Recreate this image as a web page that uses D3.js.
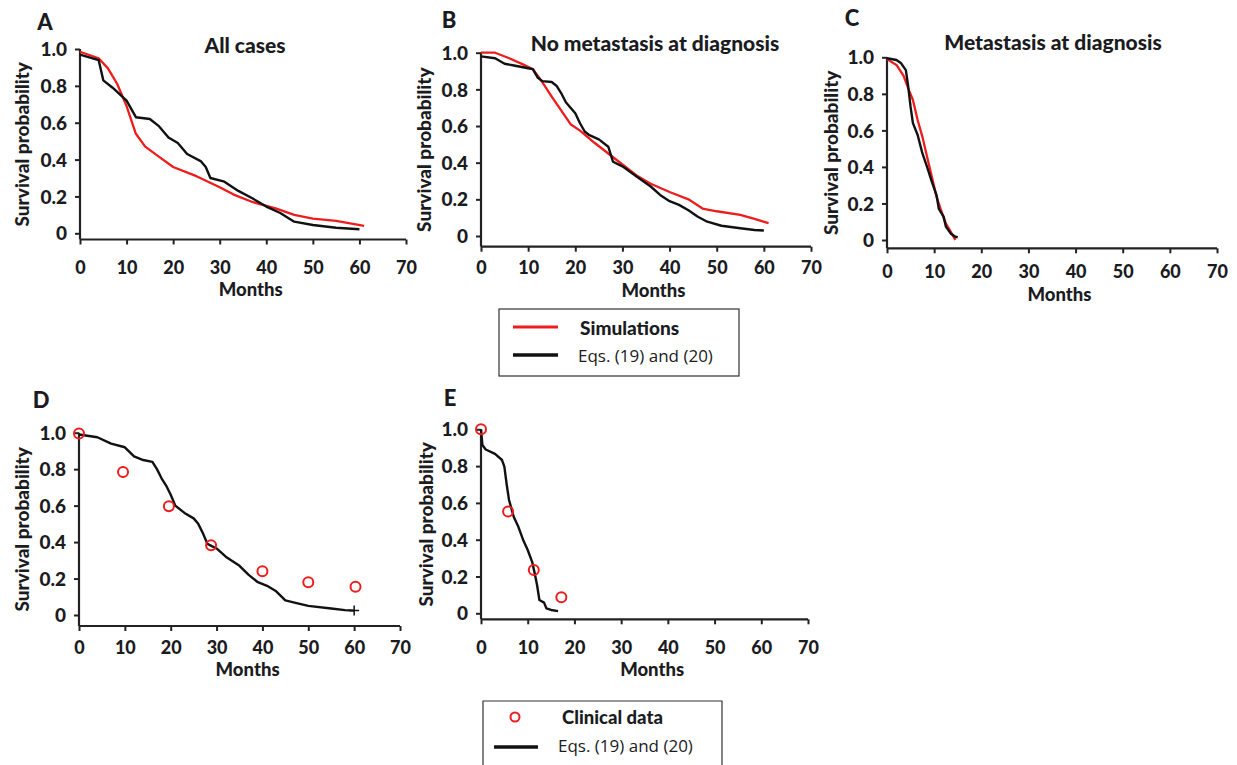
<!DOCTYPE html>
<html>
  <head>
    <meta charset="UTF-8">
    <title>survival curves</title>
    <script src="https://d3js.org/d3.v7.min.js"></script>
    <style>
      body { margin: 0; background: #fff; }
      text { font-family: Lato, "Open Sans", sans-serif; fill: #1b1b22; }
    </style>
  </head>
  <body>
    <div id="chart"></div>

    <script>
      // ---- data ----
      var monthTicks = [0, 10, 20, 30, 40, 50, 60, 70];
      var survTicks = [0, 0.2, 0.4, 0.6, 0.8, 1.0];

      // A: all cases
      var aSimMonths = [0, 4, 6, 8, 10, 12, 14, 17, 20, 25, 30, 33, 37, 42, 46, 50, 55, 61];
      var aSimSurv   = [0.985, 0.95, 0.895, 0.81, 0.69, 0.54, 0.47, 0.415, 0.36, 0.31, 0.25, 0.21, 0.17, 0.135, 0.10, 0.08, 0.067, 0.04];
      var aEqMonths  = [0, 4, 5, 7, 10, 12, 15, 17, 19, 21, 23, 26, 27, 28, 31, 34, 37, 40, 43, 46, 50, 55, 60];
      var aEqSurv    = [0.97, 0.94, 0.83, 0.79, 0.72, 0.63, 0.62, 0.58, 0.52, 0.49, 0.43, 0.39, 0.36, 0.30, 0.28, 0.23, 0.19, 0.145, 0.11, 0.063, 0.045, 0.03, 0.022];

      // B: no metastasis at diagnosis
      var bSimMonths = [0, 3, 6, 9, 11, 13, 15, 17, 19, 21, 24, 27, 30, 33, 36, 40, 44, 47, 50, 55, 58, 61];
      var bSimSurv   = [1.0, 1.0, 0.97, 0.935, 0.91, 0.84, 0.76, 0.685, 0.61, 0.575, 0.51, 0.45, 0.39, 0.33, 0.285, 0.24, 0.2, 0.15, 0.135, 0.115, 0.093, 0.07];
      var bEqMonths  = [0, 3, 5, 7, 10, 11, 12, 13, 15, 16, 17, 18, 19, 20, 21, 22, 23, 25, 27, 28, 30, 33, 36, 38, 40, 42, 44, 46, 48, 51, 55, 58, 60];
      var bEqSurv    = [0.98, 0.97, 0.94, 0.93, 0.915, 0.91, 0.865, 0.845, 0.84, 0.82, 0.78, 0.73, 0.70, 0.67, 0.615, 0.57, 0.55, 0.527, 0.487, 0.405, 0.38, 0.325, 0.27, 0.224, 0.19, 0.17, 0.14, 0.105, 0.078, 0.056, 0.042, 0.033, 0.03];

      // C: metastasis at diagnosis
      var cSimMonths = [0, 2, 3.5, 4.5, 5.5, 6.5, 7.5, 8.5, 9.5, 10.5, 11.5, 12.5, 13.5, 14.5];
      var cSimSurv   = [0.99, 0.958, 0.90, 0.83, 0.766, 0.657, 0.566, 0.456, 0.347, 0.237, 0.16, 0.09, 0.046, 0.0];
      var cEqMonths  = [0, 2, 3, 4, 4.5, 5, 5.5, 6.5, 7.5, 8.5, 9.5, 10.5, 11, 12, 12.5, 13.5, 14.5, 15];
      var cEqSurv    = [0.995, 0.985, 0.967, 0.93, 0.84, 0.73, 0.64, 0.575, 0.475, 0.40, 0.32, 0.246, 0.17, 0.128, 0.073, 0.036, 0.018, 0.015];

      // D: no metastasis, clinical data
      var dEqMonths  = [0, 4, 7, 10, 12, 14, 16, 17, 18, 19, 20, 21, 23, 25, 26, 27, 28, 30, 32, 35, 37, 39, 41, 43, 45, 47, 50, 55, 58, 60];
      var dEqSurv    = [0.99, 0.975, 0.94, 0.92, 0.87, 0.85, 0.84, 0.80, 0.75, 0.71, 0.66, 0.60, 0.56, 0.53, 0.50, 0.45, 0.39, 0.365, 0.32, 0.27, 0.22, 0.18, 0.16, 0.13, 0.08, 0.068, 0.05, 0.036, 0.027, 0.024];
      var dClinMonths = [0, 9.6, 19.6, 28.8, 40, 50, 60.3];
      var dClinSurv   = [0.995, 0.785, 0.597, 0.383, 0.24, 0.18, 0.155];

      // E: metastasis, clinical data
      var eEqMonths  = [0, 0.3, 1, 3, 4.5, 5, 5.5, 6, 7, 8, 9, 10, 11, 11.5, 12, 12.5, 13.5, 14, 15, 16.5];
      var eEqSurv    = [1.0, 0.915, 0.89, 0.866, 0.833, 0.797, 0.70, 0.616, 0.525, 0.47, 0.40, 0.344, 0.275, 0.217, 0.154, 0.072, 0.058, 0.027, 0.018, 0.012];
      var eClinMonths = [0, 5.8, 11.3, 17.2];
      var eClinSurv   = [1.0, 0.553, 0.235, 0.087];

      function zip(ms, ss) { return ms.map(function (m, i) { return { m: m, s: ss[i] }; }); }

      // ---- layout ----
      var W = 1237, H = 765;
      var svg = d3.select("#chart").append("svg").attr("width", W).attr("height", H);

      var panels = [
        { letter: "A", title: "All cases", sim: zip(aSimMonths, aSimSurv), eq: zip(aEqMonths, aEqSurv),
          x0: 80, x70: 406, yTop: 49, yZero: 233.3, axisY: 239.5, tickY: 267, labY: 289,
          titleX: 245, titleY: 44, letX: 45, letY: 21, ylabX: 21 },
        { letter: "B", title: "No metastasis at diagnosis", sim: zip(bSimMonths, bSimSurv), eq: zip(bEqMonths, bEqSurv),
          x0: 481, x70: 811, yTop: 52.7, yZero: 236, axisY: 246.7, tickY: 267, labY: 290,
          titleX: 655, titleY: 42, letX: 449, letY: 19, ylabX: 423 },
        { letter: "C", title: "Metastasis at diagnosis", sim: zip(cSimMonths, cSimSurv), eq: zip(cEqMonths, cEqSurv),
          x0: 887, x70: 1217, yTop: 57.3, yZero: 240, axisY: 248.3, tickY: 271, labY: 294,
          titleX: 1053, titleY: 41, letX: 852, letY: 17, ylabX: 830 },
        { letter: "D", clin: zip(dClinMonths, dClinSurv), eq: zip(dEqMonths, dEqSurv), endMark: true,
          x0: 79, x70: 400, yTop: 432.7, yZero: 615, axisY: 626, tickY: 647, labY: 669,
          letX: 41, letY: 399, ylabX: 21 },
        { letter: "E", clin: zip(eClinMonths, eClinSurv), eq: zip(eEqMonths, eEqSurv),
          x0: 481, x70: 808, yTop: 429.3, yZero: 613.3, axisY: 619.3, tickY: 647, labY: 669,
          letX: 450, letY: 397, ylabX: 425 }
      ];

      var boldW = 900;

      panels.forEach(function (p) {
        var x = d3.scaleLinear().domain([0, 70]).range([p.x0, p.x70]);
        var y = d3.scaleLinear().domain([0, 1]).range([p.yZero, p.yTop]);
        var g = svg.append("g");

        // x axis
        var xa = g.append("g").attr("transform", "translate(0," + p.axisY + ")")
          .call(d3.axisBottom(x).tickValues(monthTicks).tickSize(5).tickPadding(12).tickFormat(d3.format("d")));
        xa.select(".domain").attr("d", "M" + p.x0 + ",0H" + p.x70).attr("stroke", "#222").attr("stroke-width", 2.2);
        xa.selectAll(".tick line").attr("stroke", "#222").attr("stroke-width", 2);
        xa.selectAll(".tick text").attr("y", null).attr("dy", null)
          .attr("transform", "translate(0," + (p.tickY - p.axisY) + ")")
          .attr("dominant-baseline", "central")
          .style("font-size", "18px").style("font-weight", boldW).style("fill", "#1b1b22");

        // y axis
        var ya = g.append("g").attr("transform", "translate(" + p.x0 + ",0)")
          .call(d3.axisLeft(y).tickValues(survTicks).tickSize(5).tickPadding(8)
            .tickFormat(function (d) { return d === 0 ? "0" : d3.format(".1f")(d); }));
        ya.select(".domain").attr("d", "M0," + p.yTop + "V" + p.axisY).attr("stroke", "#222").attr("stroke-width", 2.2);
        ya.selectAll(".tick line").attr("stroke", "#222").attr("stroke-width", 2);
        ya.selectAll(".tick text").attr("dy", "0.35em")
          .style("font-size", "19px").style("font-weight", boldW).style("fill", "#1b1b22");

        var line = d3.line().x(function (d) { return x(d.m); }).y(function (d) { return y(d.s); });

        if (p.sim) {
          g.append("path").datum(p.sim).attr("d", line)
            .attr("fill", "none").attr("stroke", "#ee1c1c").attr("stroke-width", 2.3).attr("stroke-linejoin", "round");
        }
        g.append("path").datum(p.eq).attr("d", line)
          .attr("fill", "none").attr("stroke", "#111").attr("stroke-width", 2.4).attr("stroke-linejoin", "round");

        if (p.endMark) {
          var last = p.eq[p.eq.length - 1];
          g.append("path")
            .attr("d", "M" + (x(last.m) - 5) + "," + y(last.s) + "h10M" + x(last.m) + "," + (y(last.s) - 5) + "v10")
            .attr("stroke", "#111").attr("stroke-width", 1.5);
        }

        if (p.clin) {
          g.selectAll("circle.clin").data(p.clin).enter().append("circle")
            .attr("cx", function (d) { return x(d.m); })
            .attr("cy", function (d) { return y(d.s); })
            .attr("r", 5).attr("fill", "none").attr("stroke", "#ee1c1c").attr("stroke-width", 2);
        }

        // labels
        g.append("text").attr("x", (p.x0 + x(60)) / 2 + 31).attr("y", p.labY)
          .attr("text-anchor", "middle").attr("dominant-baseline", "central")
          .style("font-size", "18.5px").style("font-weight", boldW).text("Months");

        g.append("text")
          .attr("transform", "translate(" + p.ylabX + "," + ((p.yTop + p.axisY) / 2) + ") rotate(-90)")
          .attr("text-anchor", "middle").attr("dominant-baseline", "central")
          .style("font-size", "19px").style("font-weight", boldW).text("Survival probability");

        g.append("text").attr("x", p.letX).attr("y", p.letY)
          .attr("text-anchor", "middle").attr("dominant-baseline", "central")
          .style("font-size", "22px").style("font-weight", boldW).text(p.letter);

        if (p.title) {
          g.append("text").attr("x", p.titleX).attr("y", p.titleY)
            .attr("text-anchor", "middle").attr("dominant-baseline", "central")
            .style("font-size", "21px").style("font-weight", boldW).text(p.title);
        }
      });

      // ---- legends ----
      var leg1 = svg.append("g");
      leg1.append("rect").attr("x", 499).attr("y", 309).attr("width", 240).attr("height", 67)
        .attr("fill", "none").attr("stroke", "#333").attr("stroke-width", 1.2);
      leg1.append("line").attr("x1", 513).attr("x2", 558).attr("y1", 327).attr("y2", 327)
        .attr("stroke", "#ee1c1c").attr("stroke-width", 3);
      leg1.append("line").attr("x1", 513).attr("x2", 558).attr("y1", 355).attr("y2", 355)
        .attr("stroke", "#111").attr("stroke-width", 3.5);
      leg1.append("text").attr("x", 580).attr("y", 327).attr("dominant-baseline", "central")
        .style("font-size", "19px").style("font-weight", boldW).text("Simulations");
      leg1.append("text").attr("x", 578).attr("y", 355).attr("dominant-baseline", "central")
        .style("font-family", "'Open Sans', sans-serif").style("font-size", "17px").text("Eqs. (19) and (20)");

      var leg2 = svg.append("g");
      leg2.append("path").attr("d", "M483,770V701H722V770")
        .attr("fill", "none").attr("stroke", "#333").attr("stroke-width", 1.2);
      leg2.append("circle").attr("cx", 515).attr("cy", 717).attr("r", 4.5)
        .attr("fill", "none").attr("stroke", "#ee1c1c").attr("stroke-width", 2);
      leg2.append("line").attr("x1", 494).attr("x2", 538).attr("y1", 747).attr("y2", 747)
        .attr("stroke", "#111").attr("stroke-width", 3.5);
      leg2.append("text").attr("x", 562).attr("y", 717).attr("dominant-baseline", "central")
        .style("font-size", "18.5px").style("font-weight", boldW).text("Clinical data");
      leg2.append("text").attr("x", 558).attr("y", 745).attr("dominant-baseline", "central")
        .style("font-family", "'Open Sans', sans-serif").style("font-size", "17px").text("Eqs. (19) and (20)");
    </script>
  </body>
</html>
